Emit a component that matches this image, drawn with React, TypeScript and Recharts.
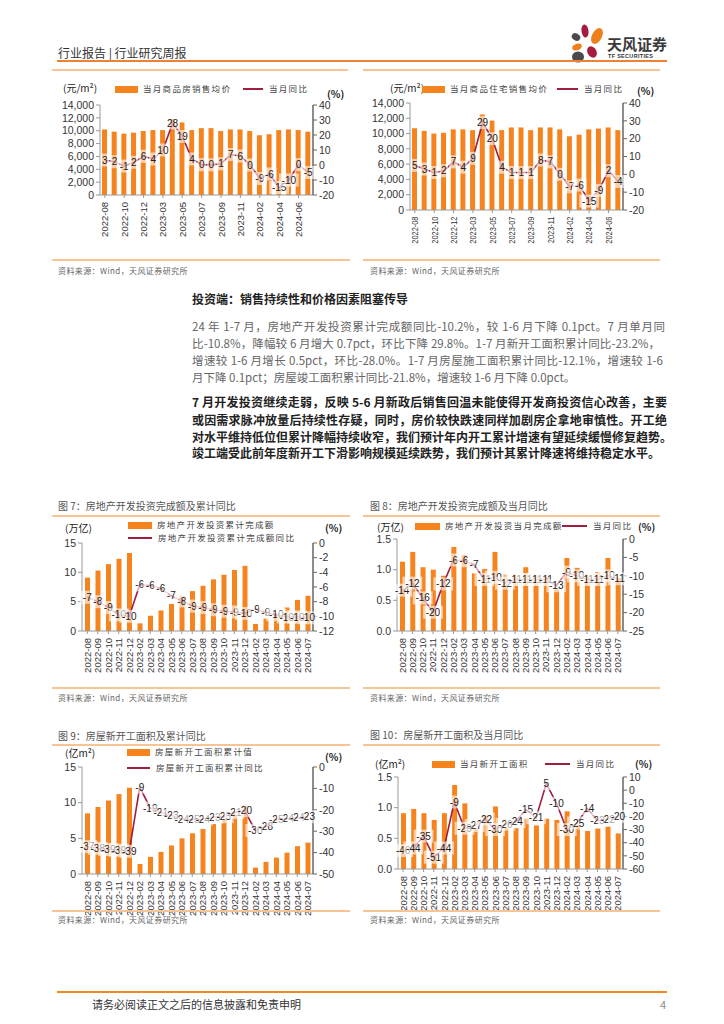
import React from "react";
import { Bar, ComposedChart, Line, XAxis, YAxis } from "recharts";

// months shared by every chart (no January figures)
const months = [
  "2022-08", "2022-09", "2022-10", "2022-11", "2022-12",
  "2023-02", "2023-03", "2023-04", "2023-05", "2023-06", "2023-07", "2023-08",
  "2023-09", "2023-10", "2023-11", "2023-12",
  "2024-02", "2024-03", "2024-04", "2024-05", "2024-06", "2024-07",
];

// 当月商品房销售均价 (元/m²) & 当月同比 (%)
const priceAll = [10200, 9850, 9550, 9700, 9950, 10100, 10100, 11800, 11300, 10100, 10400, 10400, 9950, 10200, 10200, 9950, 9300, 9450, 10100, 10200, 10100, 9850];
const priceAllYoy = [3.3, 2.2, -0.7, 1.8, 5.8, 4.0, 10.0, 28.0, 19.0, 4.0, 0.2, 0.1, 0.8, 7.0, 6.0, 0.0, -9.0, -6.0, -15.0, -10.0, 0.2, -5.0];

// 当月商品住宅销售均价 (元/m²) & 当月同比 (%)
const priceRes = [10700, 10350, 10000, 10100, 10550, 10550, 10450, 12500, 11700, 10450, 10800, 10800, 10450, 10800, 10800, 10550, 9650, 9850, 10550, 10650, 10800, 10450];
const priceResYoy = [5, 3, 1, 2, 7, 4, 9, 29, 20, 4, 1, 1, 1, 8, 7, 0, -7, -6, -15, -9, 2, -4];

// 房地产开发投资累计完成额 (万亿) & 累计同比 (%)
const invCum = [9.1, 10.3, 11.4, 12.3, 13.3, 1.3, 2.6, 3.5, 4.6, 5.9, 6.8, 7.7, 8.8, 9.6, 10.4, 11.1, 1.2, 2.2, 3.0, 4.0, 5.3, 6.0];
const invCumYoy = [-7.4, -8.0, -8.8, -9.8, -10.0, -5.7, -5.8, -6.2, -7.2, -7.9, -8.6, -8.8, -9.1, -9.3, -9.4, -9.6, -9.0, -9.5, -9.8, -10.1, -10.1, -10.2];

// 房地产开发投资当月完成额 (万亿) & 当月同比 (%)
const invMonth = [1.13, 1.29, 1.04, 1.0, 0.9, 1.37, 1.24, 0.94, 1.01, 1.29, 0.92, 0.92, 1.04, 0.91, 0.88, 0.68, 1.19, 1.03, 0.92, 0.96, 1.19, 0.86];
const invMonthYoy = [-13.9, -12.0, -16.0, -19.9, -12.2, -5.7, -5.9, -7.0, -11.0, -10.4, -12.0, -11.0, -11.0, -11.0, -11.0, -12.7, -9.0, -10.0, -11.0, -11.0, -10.0, -10.8];

// 房屋新开工面积累计值 (亿m²) & 累计同比 (%)
const startsCum = [8.5, 9.4, 10.3, 11.2, 12.1, 1.4, 2.4, 3.1, 4.0, 5.0, 5.7, 6.3, 7.0, 7.6, 8.5, 9.6, 0.9, 1.7, 2.3, 3.0, 3.9, 4.4];
const startsCumYoy = [-37.2, -38.0, -38.6, -38.9, -39.4, -9.4, -19.2, -21.2, -22.6, -24.3, -24.6, -24.4, -23.4, -23.2, -21.2, -20.4, -29.7, -27.8, -24.6, -24.2, -23.7, -23.2];

// 当月新开工面积 (亿m²) & 当月同比 (%)
const startsMonth = [0.91, 0.98, 0.91, 0.8, 0.91, 1.37, 1.07, 0.66, 0.86, 1.02, 0.69, 0.67, 0.82, 0.71, 0.82, 0.8, 0.94, 0.72, 0.62, 0.66, 0.69, 0.58];
const startsMonthYoy = [-46, -44, -35, -51, -44, -9, -29, -27, -22, -30, -26, -24, -15, -21, 5, -10, -30, -25, -14, -23, -22, -20];

// axis ticks
const priceTicks = [0, 2000, 4000, 6000, 8000, 10000, 12000, 14000];
const priceYoyTicks = [-20, -10, 0, 10, 20, 30, 40];
const cumTicks = [0, 5, 10, 15];
const monthTicks = [0, 0.5, 1.0, 1.5];
const invCumYoyTicks = [-12, -10, -8, -6, -4, -2, 0];
const invMonthYoyTicks = [-25, -20, -15, -10, -5, 0];
const startsCumYoyTicks = [-50, -40, -30, -20, -10, 0];
const startsMonthYoyTicks = [-60, -50, -40, -30, -20, -10, 0, 10];

const ORANGE = "#F5841F";
const CRIMSON = "#A01E40";
const RULE = "#F9C495";
const CJK = '"Noto Sans CJK SC", "Noto Sans", sans-serif';
const NUM = '"Liberation Sans", Arial, sans-serif';

const para1 = [
  "24 年 1-7 月，房地产开发投资累计完成额同比-10.2%，较 1-6 月下降 0.1pct。7 月单月同",
  "比-10.8%，降幅较 6 月增大 0.7pct，环比下降 29.8%。1-7 月新开工面积累计同比-23.2%，",
  "增速较 1-6 月增长 0.5pct，环比-28.0%。1-7 月房屋施工面积累计同比-12.1%，增速较 1-6",
  "月下降 0.1pct；房屋竣工面积累计同比-21.8%，增速较 1-6 月下降 0.0pct。",
];
const para2 = [
  "7 月开发投资继续走弱，反映 5-6 月新政后销售回温未能使得开发商投资信心改善，主要",
  "或因需求脉冲放量后持续性存疑，同时，房价较快跌速同样加剧房企拿地审慎性。开工绝",
  "对水平维持低位但累计降幅持续收窄，我们预计年内开工累计增速有望延续缓慢修复趋势。",
  "竣工端受此前年度新开工下滑影响规模延续跌势，我们预计其累计降速将维持稳定水平。",
];

function Txt({ x, y, size, color = "#333", weight = 400, spacing = 0, width, justify, children }: any) {
  return (
    <div
      style={{
        position: "absolute",
        left: x,
        top: y - size * 0.7,
        height: size * 1.4,
        lineHeight: `${size * 1.4}px`,
        fontSize: size,
        color,
        fontWeight: weight,
        letterSpacing: spacing,
        fontFamily: CJK,
        whiteSpace: "nowrap",
        width,
        textAlign: justify ? "justify" : "left",
        textAlignLast: justify ? "justify" : "auto",
      } as React.CSSProperties}
    >
      {children}
    </div>
  );
}

function Rule({ x1, x2, y, color = RULE, h = 1.5 }: any) {
  return <div style={{ position: "absolute", left: x1, top: y - h / 2, width: x2 - x1, height: h, background: color }} />;
}

function BarKey({ x, y, w = 24, label }: any) {
  return (
    <>
      <div style={{ position: "absolute", left: x, top: y - 3.5, width: w, height: 7, background: ORANGE }} />
      <Txt x={x + w + 5} y={y} size={8.5} spacing={1.3} color="#444">{label}</Txt>
    </>
  );
}

function LineKey({ x, y, w = 24, label }: any) {
  return (
    <>
      <div style={{ position: "absolute", left: x, top: y - 1, width: w, height: 2, background: CRIMSON }} />
      <Txt x={x + w + 6} y={y} size={8.5} spacing={1.3} color="#444">{label}</Txt>
    </>
  );
}

// rotated month label; sx squeezes the string length when the axis is short
function XTick(props: any) {
  const { x, y, payload, fs, sx = 1 } = props;
  return (
    <text
      x={0}
      y={0}
      dx={-2}
      transform={`translate(${x} ${y}) rotate(-90) scale(${sx} 1)`}
      textAnchor="end"
      dominantBaseline="central"
      fontSize={fs}
      fill="#333"
      fontFamily={NUM}
    >
      {payload.value}
    </text>
  );
}

function pointLabel(props: any) {
  const { x, y, value, index } = props;
  if (x == null || y == null) return null;
  const t = String(Math.round(Number(value)));
  const w = t.length * 5.6 + 3;
  return (
    <g key={`lbl-${index}`}>
      <rect x={x - w / 2} y={y - 6.5} width={w} height={13} fill="#fff" fillOpacity={0.6} />
      <text x={x} y={y} dy={3.6} textAnchor="middle" fontSize={10} fill="#222" fontFamily={NUM}>
        {t}
      </text>
    </g>
  );
}

function DualChart({ bars, yoy, plot, leftTicks, leftFmt, rightTicks, interval = 0, xFont = 9.5, xScale = 1 }: any) {
  const data = months.map((m, i) => ({ m, bar: bars[i], yoy: yoy[i] }));
  const LW = 50;
  const RW = 40;
  const MT = 8;
  const XH = 48;
  const left = plot.l - LW;
  const top = plot.t - MT;
  const width = plot.r + RW - left;
  const height = plot.b + XH - top;
  const tickStyle = { fontSize: 10.5, fill: "#333", fontFamily: NUM };
  return (
    <div style={{ position: "absolute", left, top }}>
      <ComposedChart width={width} height={height} data={data} margin={{ top: MT, right: 0, bottom: 0, left: 0 }}>
        <XAxis
          dataKey="m"
          interval={interval}
          height={XH}
          tick={<XTick fs={xFont} sx={xScale} />}
          tickSize={3}
          tickLine={{ stroke: "#999" }}
          axisLine={{ stroke: "#999" }}
        />
        <YAxis
          yAxisId="l"
          width={LW}
          domain={[leftTicks[0], leftTicks[leftTicks.length - 1]]}
          ticks={leftTicks}
          interval={0}
          allowDataOverflow
          tickFormatter={leftFmt}
          tick={tickStyle}
          tickSize={4}
          tickLine={{ stroke: "#999" }}
          axisLine={{ stroke: "#999" }}
        />
        <YAxis
          yAxisId="r"
          orientation="right"
          width={RW}
          domain={[rightTicks[0], rightTicks[rightTicks.length - 1]]}
          ticks={rightTicks}
          interval={0}
          allowDataOverflow
          tick={tickStyle}
          tickSize={4}
          tickLine={{ stroke: "#666" }}
          axisLine={{ stroke: "#666", strokeWidth: 1.5 }}
        />
        <Bar yAxisId="l" dataKey="bar" fill={ORANGE} barSize={5} isAnimationActive={false} />
        <Line
          yAxisId="r"
          type="linear"
          dataKey="yoy"
          stroke={CRIMSON}
          strokeWidth={1.6}
          dot={false}
          label={pointLabel}
          isAnimationActive={false}
        />
      </ComposedChart>
    </div>
  );
}

const fmtThousands = (v: number) => v.toLocaleString("en-US");
const fmtOne = (v: number) => v.toFixed(1);

function Logo() {
  return (
    <>
      <svg style={{ position: "absolute", left: 566, top: 20 }} width={42} height={46}>
        <ellipse cx={19} cy={11} rx={3.5} ry={6.5} fill="#A51D3E" transform="rotate(-8 19 11)" />
        <ellipse cx={10} cy={17} rx={4.5} ry={3.5} fill="#4A4A4A" transform="rotate(30 10 17)" />
        <ellipse cx={31} cy={16} rx={5} ry={8.5} fill="#EE7F1A" transform="rotate(28 31 16)" />
        <ellipse cx={11} cy={27} rx={5} ry={3.3} fill="#EE7F1A" transform="rotate(-20 11 27)" />
        <ellipse cx={12} cy={37} rx={6} ry={5.5} fill="#4A4A4A" />
        <ellipse cx={26} cy={32} rx={4.5} ry={6} fill="#A51D3E" transform="rotate(-30 26 32)" />
      </svg>
      <Txt x={607} y={43} size={15} weight={700} color="#3A3A3A">天风证券</Txt>
      <div
        style={{
          position: "absolute",
          left: 608,
          top: 52,
          fontSize: 5.5,
          lineHeight: "8px",
          fontWeight: 700,
          letterSpacing: 0.3,
          color: "#333",
          fontFamily: NUM,
          whiteSpace: "nowrap",
        }}
      >
        TF SECURITIES
      </div>
    </>
  );
}

export default function App() {
  return (
    <div
      style={{
        position: "absolute",
        left: 0,
        top: 0,
        width: 724,
        height: 1024,
        background: "#fff",
        overflow: "hidden",
        fontFamily: CJK,
      }}
    >
      {/* header */}
      <Txt x={58} y={53} size={12} color="#333">行业报告 | 行业研究周报</Txt>
      <Logo />
      <Rule x1={57} x2={667} y={61} color="#EE8133" h={2} />
      <Rule x1={52} x2={348} y={70} />
      <Rule x1={363} x2={660} y={70} />

      {/* chart 1 */}
      <Txt x={63} y={88} size={10} color="#222">(元/m²)</Txt>
      <BarKey x={115} y={89} w={23} label="当月商品房销售均价" />
      <LineKey x={243} y={89} w={20} label="当月同比" />
      <Txt x={327} y={94} size={10} weight={700} color="#222">(%)</Txt>
      <DualChart
        bars={priceAll}
        yoy={priceAllYoy}
        plot={{ l: 100, r: 313, t: 105, b: 195 }}
        leftTicks={priceTicks}
        leftFmt={fmtThousands}
        rightTicks={priceYoyTicks}
        interval={1}
        xFont={9.5}
      />
      <Rule x1={52} x2={350} y={260} />
      <Txt x={58} y={271} size={8} spacing={0.4} color="#666">资料来源：Wind，天风证券研究所</Txt>

      {/* chart 2 */}
      <Txt x={390} y={88} size={10} color="#222">(元/m²)</Txt>
      <BarKey x={422} y={89} w={23} label="当月商品住宅销售均价" />
      <LineKey x={557} y={89} w={21} label="当月同比" />
      <Txt x={637} y={91} size={10} weight={700} color="#222">(%)</Txt>
      <DualChart
        bars={priceRes}
        yoy={priceResYoy}
        plot={{ l: 410, r: 623, t: 103, b: 210 }}
        leftTicks={priceTicks}
        leftFmt={fmtThousands}
        rightTicks={priceYoyTicks}
        interval={1}
        xFont={9.5}
        xScale={0.78}
      />
      <Rule x1={363} x2={660} y={260} />
      <Txt x={370} y={271} size={8} spacing={0.4} color="#666">资料来源：Wind，天风证券研究所</Txt>

      {/* text */}
      <Txt x={192} y={299} size={12} weight={700} color="#222">投资端：销售持续性和价格因素阻塞传导</Txt>
      {para1.map((s, i) => (
        <Txt key={s} x={192} y={[326, 343, 360, 377][i]} size={11.5} color="#666" width={i < 3 ? [473, 468, 471][i] : undefined} justify={i < 3}>
          {s}
        </Txt>
      ))}
      {para2.map((s, i) => (
        <Txt key={s} x={192} y={[402, 420, 437, 453][i]} size={12} weight={700} color="#222" width={i < 3 ? [475, 475, 480][i] : undefined} justify={i < 3}>
          {s}
        </Txt>
      ))}

      {/* figure 7 */}
      <Txt x={58} y={506} size={10} color="#555">图 7：房地产开发投资完成额及累计同比</Txt>
      <Rule x1={52} x2={350} y={516} />
      <Txt x={65} y={528} size={10} color="#222">(万亿)</Txt>
      <BarKey x={128} y={525} w={24} label="房地产开发投资累计完成额" />
      <LineKey x={128} y={538} w={24} label="房地产开发投资累计完成额同比" />
      <Txt x={325} y={528} size={10} weight={700} color="#222">(%)</Txt>
      <DualChart
        bars={invCum}
        yoy={invCumYoy}
        plot={{ l: 82, r: 313, t: 543, b: 631 }}
        leftTicks={cumTicks}
        rightTicks={invCumYoyTicks}
      />
      <Rule x1={52} x2={350} y={688} />
      <Txt x={58} y={698} size={8} spacing={0.4} color="#666">资料来源：Wind，天风证券研究所</Txt>

      {/* figure 8 */}
      <Txt x={370} y={506} size={10} color="#555">图 8：房地产开发投资完成额及当月同比</Txt>
      <Rule x1={363} x2={660} y={516} />
      <Txt x={377} y={527} size={10} color="#222">(万亿)</Txt>
      <BarKey x={415} y={526} w={25} label="房地产开发投资当月完成额" />
      <LineKey x={562} y={526} w={25} label="当月同比" />
      <Txt x={638} y={527} size={10} weight={700} color="#222">(%)</Txt>
      <DualChart
        bars={invMonth}
        yoy={invMonthYoy}
        plot={{ l: 397, r: 623, t: 539, b: 631 }}
        leftTicks={monthTicks}
        leftFmt={fmtOne}
        rightTicks={invMonthYoyTicks}
      />
      <Rule x1={363} x2={660} y={688} />
      <Txt x={370} y={698} size={8} spacing={0.4} color="#666">资料来源：Wind，天风证券研究所</Txt>

      {/* figure 9 */}
      <Txt x={58} y={736} size={10} color="#555">图 9：房屋新开工面积及累计同比</Txt>
      <Rule x1={52} x2={350} y={745} />
      <Txt x={65} y={753} size={10} color="#222">(亿m²)</Txt>
      <BarKey x={127} y={752} w={23} label="房屋新开工面积累计值" />
      <LineKey x={127} y={768} w={23} label="房屋新开工面积累计同比" />
      <Txt x={325} y={757} size={10} weight={700} color="#222">(%)</Txt>
      <DualChart
        bars={startsCum}
        yoy={startsCumYoy}
        plot={{ l: 82, r: 313, t: 767, b: 874 }}
        leftTicks={cumTicks}
        rightTicks={startsCumYoyTicks}
      />
      <Rule x1={52} x2={350} y={911} />
      <Txt x={58} y={920} size={8} spacing={0.4} color="#666">资料来源：Wind，天风证券研究所</Txt>

      {/* figure 10 */}
      <Txt x={370} y={735} size={10} color="#555">图 10：房屋新开工面积及当月同比</Txt>
      <Rule x1={363} x2={660} y={745} />
      <Txt x={375} y={764} size={10} color="#222">(亿m²)</Txt>
      <BarKey x={432} y={764} w={23} label="当月新开工面积" />
      <LineKey x={545} y={764} w={25} label="当月同比" />
      <Txt x={635} y={764} size={10} weight={700} color="#222">(%)</Txt>
      <DualChart
        bars={startsMonth}
        yoy={startsMonthYoy}
        plot={{ l: 398, r: 623, t: 777, b: 869 }}
        leftTicks={monthTicks}
        leftFmt={fmtOne}
        rightTicks={startsMonthYoyTicks}
      />
      <Rule x1={363} x2={660} y={911} />
      <Txt x={370} y={920} size={8} spacing={0.4} color="#666">资料来源：Wind，天风证券研究所</Txt>

      {/* footer */}
      <Rule x1={57} x2={667} y={992} color="#EE8A1E" h={1.5} />
      <Txt x={92} y={1005} size={11} color="#333">请务必阅读正文之后的信息披露和免责申明</Txt>
      <Txt x={660} y={1005} size={11} color="#888">4</Txt>
    </div>
  );
}
